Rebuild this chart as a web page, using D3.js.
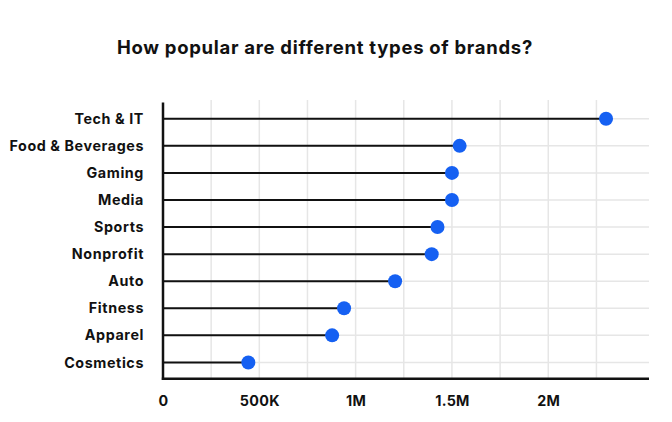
<!DOCTYPE html>
<html>
<head>
<meta charset="utf-8">
<script src="https://cdn.jsdelivr.net/npm/d3@7"></script>
<style>
  html, body { margin: 0; padding: 0; background: #fff; }
  text { font-family: Inter, "Open Sans", sans-serif; }
</style>
</head>
<body>
<svg id="chart" width="672" height="422"></svg>
<script>
const categories = ["Tech & IT", "Food & Beverages", "Gaming", "Media", "Sports", "Nonprofit", "Auto", "Fitness", "Apparel", "Cosmetics"];
const values = [2300000, 1540000, 1500000, 1500000, 1425000, 1395000, 1205000, 940000, 878000, 443000];
const tickValues = [0, 500000, 1000000, 1500000, 2000000];
const tickLabels = ["0", "500K", "1M", "1.5M", "2M"];
const gridValues = [250000, 500000, 750000, 1000000, 1250000, 1500000, 1750000, 2000000, 2250000];
const title = "How popular are different types of brands?";

const svg = d3.select("#chart");
const mLeft = 163, mRight = 649, mTop = 102.5, mBottom = 378.7;

const x = d3.scaleLinear().domain([0, 2523000]).range([mLeft, mRight]);
const y = d3.scalePoint().domain(categories).range([mTop, mBottom]).padding(0.6);

svg.append("text")
  .attr("x", 325).attr("y", 54)
  .attr("text-anchor", "middle")
  .attr("font-size", 18.5).attr("font-weight", 700)
  .attr("letter-spacing", 0.7)
  .attr("fill", "#111")
  .text(title);

// gridlines
svg.append("g").selectAll("line").data(gridValues).join("line")
  .attr("x1", d => x(d)).attr("x2", d => x(d))
  .attr("y1", 100).attr("y2", mBottom)
  .attr("stroke", "#e6e6e6").attr("stroke-width", 1.5);
svg.append("g").selectAll("line").data(categories).join("line")
  .attr("x1", mLeft).attr("x2", mRight)
  .attr("y1", d => y(d)).attr("y2", d => y(d))
  .attr("stroke", "#e6e6e6").attr("stroke-width", 1.5);

// stems
const data = categories.map((c, i) => ({c, v: values[i]}));
svg.append("g").selectAll("line").data(data).join("line")
  .attr("x1", mLeft).attr("x2", d => x(d.v))
  .attr("y1", d => y(d.c)).attr("y2", d => y(d.c))
  .attr("stroke", "#111").attr("stroke-width", 2);

// dots
svg.append("g").selectAll("circle").data(data).join("circle")
  .attr("cx", d => x(d.v)).attr("cy", d => y(d.c)).attr("r", 7)
  .attr("fill", "#1560f2");

// axes
const yAxis = d3.axisLeft(y).tickSize(0).tickPadding(19);
const gy = svg.append("g").attr("transform", `translate(${mLeft},0)`).call(yAxis);
gy.select(".domain").remove();
gy.selectAll("text").attr("font-size", 14.3).attr("font-weight", 700).attr("fill", "#111")
  .attr("letter-spacing", 0.6)
  .attr("font-family", "Inter, sans-serif");

const xAxis = d3.axisBottom(x).tickValues(tickValues).tickSize(0).tickPadding(17)
  .tickFormat((d, i) => tickLabels[i]);
const gx = svg.append("g").attr("transform", `translate(0,${mBottom})`).call(xAxis);
gx.select(".domain").remove();
gx.selectAll("text").attr("font-size", 14.3).attr("font-weight", 700).attr("fill", "#111")
  .attr("letter-spacing", 0.3)
  .attr("font-family", "Inter, sans-serif");

svg.append("line").attr("x1", mLeft).attr("x2", mLeft).attr("y1", mTop).attr("y2", mBottom + 1.2)
  .attr("stroke", "#111").attr("stroke-width", 2.5);
svg.append("line").attr("x1", mLeft - 1.2).attr("x2", mRight).attr("y1", mBottom).attr("y2", mBottom)
  .attr("stroke", "#111").attr("stroke-width", 2.5);
</script>
</body>
</html>
